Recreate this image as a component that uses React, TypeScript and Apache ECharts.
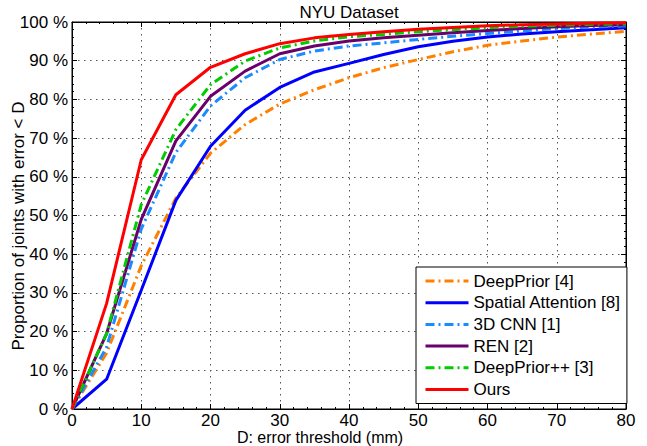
import React, { useEffect, useRef } from "react";
import * as echarts from "echarts";

const thresholds = [0, 5, 10, 15, 20, 25, 30, 35, 40, 45, 50, 55, 60, 65, 70, 75, 80];

const deepPrior = [0, 14.5, 37, 54.5, 66.1, 73.5, 78.8, 82.5, 85.6, 88.2, 90.3, 92.3, 94.0, 95.1, 96.1, 96.9, 97.6];
const spatialAttention = [0, 7.7, 30.7, 53.9, 67.9, 77.2, 83.1, 87.1, 89.3, 91.6, 93.6, 95.0, 96.1, 96.9, 97.5, 98.0, 98.5];
const cnn3d = [0, 16, 46.5, 66.3, 78.3, 85.6, 90.3, 92.5, 93.8, 94.6, 95.5, 96.3, 97.0, 97.7, 98.3, 98.7, 99.0];
const ren = [0, 19.5, 49, 69.3, 80.8, 87.3, 91.8, 93.8, 95.1, 95.9, 96.6, 97.2, 97.8, 98.3, 98.8, 99.1, 99.3];
const deepPriorPP = [0, 19.5, 52.8, 72.2, 83.8, 89.9, 93.3, 95.1, 96.2, 96.8, 97.5, 98.0, 98.5, 98.9, 99.2, 99.4, 99.5];
const ours = [0, 27.3, 64.4, 81.2, 88.3, 91.8, 94.4, 95.9, 96.8, 97.5, 98.1, 98.6, 99.0, 99.3, 99.5, 99.7, 99.8];

const seriesNames = ["DeepPrior [4]", "Spatial Attention [8]", "3D CNN [1]", "REN [2]", "DeepPrior++ [3]", "Ours"];
const seriesValues = [deepPrior, spatialAttention, cnn3d, ren, deepPriorPP, ours];
const seriesColors = ["#FF8000", "#0000FF", "#1A8CFF", "#6A006A", "#00CC00", "#FF0000"];
const seriesDashed = [true, false, true, false, true, false];

const xTicks = [0, 10, 20, 30, 40, 50, 60, 70, 80];
const yTicks = [0, 10, 20, 30, 40, 50, 60, 70, 80, 90, 100];

const FONT = "Liberation Sans, Arial, Helvetica, sans-serif";

export default function App() {
  const ref = useRef<HTMLDivElement>(null);

  useEffect(() => {
    if (!ref.current) return;
    const chart = echarts.init(ref.current, undefined, { renderer: "svg" });
    const dashDot = [9, 4, 2, 4];

    const series = seriesNames.map((name, i) => ({
      name,
      type: "line",
      xAxisIndex: 0,
      yAxisIndex: 0,
      symbol: "none",
      showSymbol: false,
      data: thresholds.map((t, j) => [t, seriesValues[i][j]]),
      lineStyle: {
        color: seriesColors[i],
        width: 3,
        type: seriesDashed[i] ? dashDot : "solid",
      },
      itemStyle: { color: seriesColors[i] },
      z: 2 + i,
    }));

    const gridLine = { show: true, lineStyle: { color: "#555", width: 1, type: [1.5, 4.5] } };

    chart.setOption({
      animation: false,
      backgroundColor: "#fff",
      textStyle: { fontFamily: FONT },
      grid: {
        left: 72,
        right: 21,
        top: 22,
        bottom: 37,
        show: true,
        borderColor: "#000",
        borderWidth: 1,
        backgroundColor: "#fff",
      },
      xAxis: [
        {
          type: "value",
          min: xTicks[0],
          max: xTicks[xTicks.length - 1],
          interval: 10,
          position: "bottom",
          axisLine: { show: true, onZero: false, lineStyle: { color: "#000", width: 1 } },
          axisTick: { show: true, inside: true, length: 5, lineStyle: { color: "#000" } },
          minorTick: { show: true, splitNumber: 5, length: 2, lineStyle: { color: "#000" } },
          axisLabel: { color: "#000", fontSize: 17, fontFamily: FONT, margin: 3, lineHeight: 17 },
          splitLine: gridLine,
        },
        {
          type: "value",
          min: xTicks[0],
          max: xTicks[xTicks.length - 1],
          interval: 10,
          position: "top",
          axisLine: { show: true, onZero: false, lineStyle: { color: "#000", width: 1 } },
          axisTick: { show: true, inside: true, length: 5, lineStyle: { color: "#000" } },
          minorTick: { show: true, splitNumber: 5, length: 2, lineStyle: { color: "#000" } },
          axisLabel: { show: false },
          splitLine: { show: false },
        },
      ],
      yAxis: [
        {
          type: "value",
          min: yTicks[0],
          max: yTicks[yTicks.length - 1],
          interval: 10,
          position: "left",
          axisLine: { show: true, onZero: false, lineStyle: { color: "#000", width: 1 } },
          axisTick: { show: true, inside: true, length: 5, lineStyle: { color: "#000" } },
          minorTick: { show: true, splitNumber: 5, length: 2, lineStyle: { color: "#000" } },
          axisLabel: {
            color: "#000",
            fontSize: 17,
            fontFamily: FONT,
            margin: 4,
            formatter: "{value} %",
          },
          splitLine: gridLine,
        },
        {
          type: "value",
          min: yTicks[0],
          max: yTicks[yTicks.length - 1],
          interval: 10,
          position: "right",
          axisLine: { show: true, onZero: false, lineStyle: { color: "#000", width: 1 } },
          axisTick: { show: true, inside: true, length: 5, lineStyle: { color: "#000" } },
          minorTick: { show: true, splitNumber: 5, length: 2, lineStyle: { color: "#000" } },
          axisLabel: { show: false },
          splitLine: { show: false },
        },
      ],
      legend: {
        show: true,
        orient: "vertical",
        left: 416,
        top: 267,
        padding: [4, 6, 4, 8],
        itemWidth: 43,
        itemHeight: 12,
        itemGap: 1.7,
        backgroundColor: "#fff",
        borderColor: "#000",
        borderWidth: 1,
        borderRadius: 0,
        itemStyle: { opacity: 0, borderWidth: 0 },
        lineStyle: { width: 3 },
        textStyle: { color: "#000", fontSize: 17, fontFamily: FONT, lineHeight: 20 },
        data: seriesNames,
        z: 20,
      },
      graphic: [
        {
          type: "text",
          x: 349,
          y: 12,
          style: {
            text: "NYU Dataset",
            fill: "#000",
            font: `17px ${FONT}`,
            align: "center",
            verticalAlign: "middle",
          },
        },
        {
          type: "text",
          x: 320,
          y: 437.5,
          style: {
            text: "D: error threshold (mm)",
            fill: "#000",
            font: `16px ${FONT}`,
            align: "center",
            verticalAlign: "middle",
          },
        },
        {
          type: "text",
          x: 18,
          y: 226,
          rotation: Math.PI / 2,
          style: {
            text: "Proportion of joints with error < D",
            fill: "#000",
            font: `17px ${FONT}`,
            align: "center",
            verticalAlign: "middle",
          },
        },
      ],
      series,
    });

    return () => chart.dispose();
  }, []);

  return (
    <div
      ref={ref}
      style={{ position: "fixed", left: 0, top: 0, width: 647, height: 446, background: "#fff" }}
    />
  );
}
